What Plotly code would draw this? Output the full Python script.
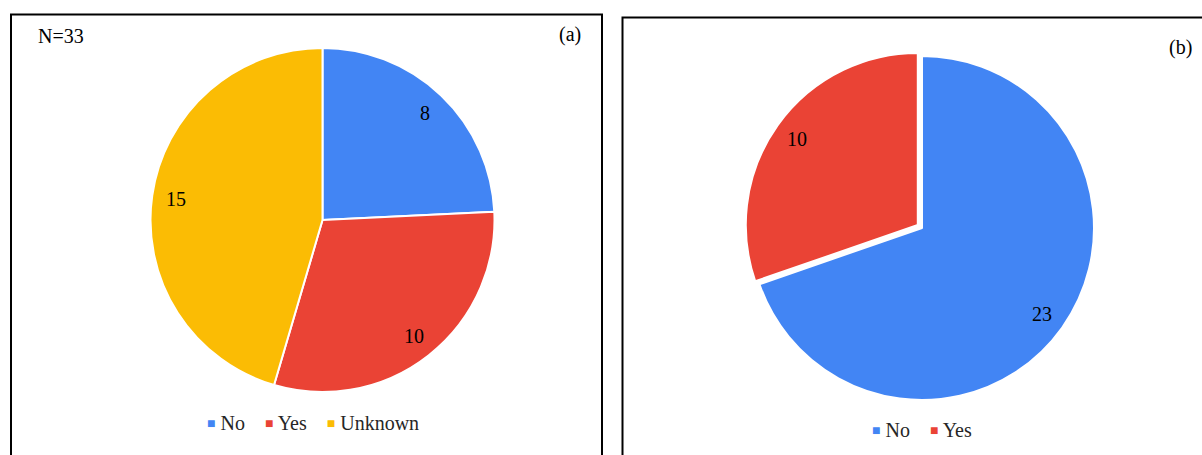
import math
import plotly.graph_objects as go

# ---------------- data ----------------
labels_a = ["No", "Yes", "Unknown"]
values_a = [8, 10, 15]
labels_b = ["No", "Yes"]
values_b = [23, 10]
pull_b = [0, 0.03]
panel_tags = ["(a)", "(b)"]
color_map = {"No": "#4285F4", "Yes": "#EA4335", "Unknown": "#FBBC04"}

# ---------------- geometry (pixels) ----------------
W, H = 1202, 455
FONT = "Liberation Serif, Times New Roman, serif"
R = 172
CA = (322.5, 220)
CB = (922, 228)
LABEL_FRAC = 0.86


def px(x):
    return x / W


def py(y):
    return 1 - y / H


def domain(center, r, maxpull):
    half = r * (1 + maxpull)
    cx, cy = center
    return dict(x=[px(cx - half), px(cx + half)], y=[py(cy + half), py(cy - half)])


def slice_label_annotations(values, center, r, pulls=None):
    anns = []
    total = sum(values)
    start = 0.0
    for i, v in enumerate(values):
        mid = (start + v / 2) / total * 2 * math.pi
        start += v
        p = pulls[i] if pulls else 0
        d = r * (LABEL_FRAC + p)
        x = center[0] + d * math.sin(mid)
        y = center[1] - d * math.cos(mid)
        anns.append(dict(x=px(x), y=py(y), xref="paper", yref="paper",
                         text=str(v), showarrow=False,
                         font=dict(family=FONT, size=20, color="#000000"),
                         xanchor="center", yanchor="middle"))
    return anns


def legend_text(labels):
    items = []
    for lab in labels:
        items.append(f'<span style="color:{color_map[lab]};font-size:14px;'
                     f'baseline-shift:2px">■</span> {lab}')
    return "    ".join(items)


fig = go.Figure()

fig.add_trace(go.Pie(
    labels=labels_a, values=values_a, sort=False, direction="clockwise",
    rotation=0, textinfo="none", showlegend=False,
    marker=dict(colors=[color_map[l] for l in labels_a],
                line=dict(color="white", width=2)),
    domain=domain(CA, R, 0), hoverinfo="label+value",
))

fig.add_trace(go.Pie(
    labels=labels_b, values=values_b, sort=False, direction="clockwise",
    rotation=0, textinfo="none", pull=pull_b, showlegend=False,
    marker=dict(colors=[color_map[l] for l in labels_b],
                line=dict(color="white", width=2)),
    domain=domain(CB, R, max(pull_b)), hoverinfo="label+value",
))

txt_font = dict(family=FONT, size=20, color="#000000")
annotations = []
annotations += slice_label_annotations(values_a, CA, R)
annotations += slice_label_annotations(values_b, CB, R, pull_b)
annotations.append(dict(x=px(36), y=py(36), xref="paper", yref="paper",
                        text=f"N={sum(values_a)}", showarrow=False, font=txt_font,
                        xanchor="left", yanchor="middle"))
annotations.append(dict(x=px(583), y=py(35), xref="paper", yref="paper",
                        text=panel_tags[0], showarrow=False, font=txt_font,
                        xanchor="right", yanchor="middle"))
annotations.append(dict(x=px(1194), y=py(48), xref="paper", yref="paper",
                        text=panel_tags[1], showarrow=False, font=txt_font,
                        xanchor="right", yanchor="middle"))
# legends
annotations.append(dict(x=px(312.5), y=py(422.5), xref="paper", yref="paper",
                        text=legend_text(labels_a), showarrow=False,
                        font=dict(family=FONT, size=20, color="#262626"),
                        xanchor="center", yanchor="middle"))
annotations.append(dict(x=px(922), y=py(430), xref="paper", yref="paper",
                        text=legend_text(labels_b), showarrow=False,
                        font=dict(family=FONT, size=20, color="#262626"),
                        xanchor="center", yanchor="middle"))

shapes = [
    dict(type="rect", xref="paper", yref="paper",
         x0=px(11), x1=px(602), y0=py(470), y1=py(14.5),
         line=dict(color="#000000", width=2), fillcolor="rgba(0,0,0,0)"),
    dict(type="rect", xref="paper", yref="paper",
         x0=px(622.5), x1=px(1215), y0=py(470), y1=py(17.5),
         line=dict(color="#000000", width=2), fillcolor="rgba(0,0,0,0)"),
]

fig.update_layout(
    width=W, height=H,
    margin=dict(l=0, r=0, t=0, b=0),
    paper_bgcolor="white", plot_bgcolor="white",
    showlegend=False,
    annotations=annotations,
    shapes=shapes,
)

fig.write_html("out.html", config={"displayModeBar": False},
               post_script="document.body.style.margin='0';document.body.style.overflow='hidden';")
